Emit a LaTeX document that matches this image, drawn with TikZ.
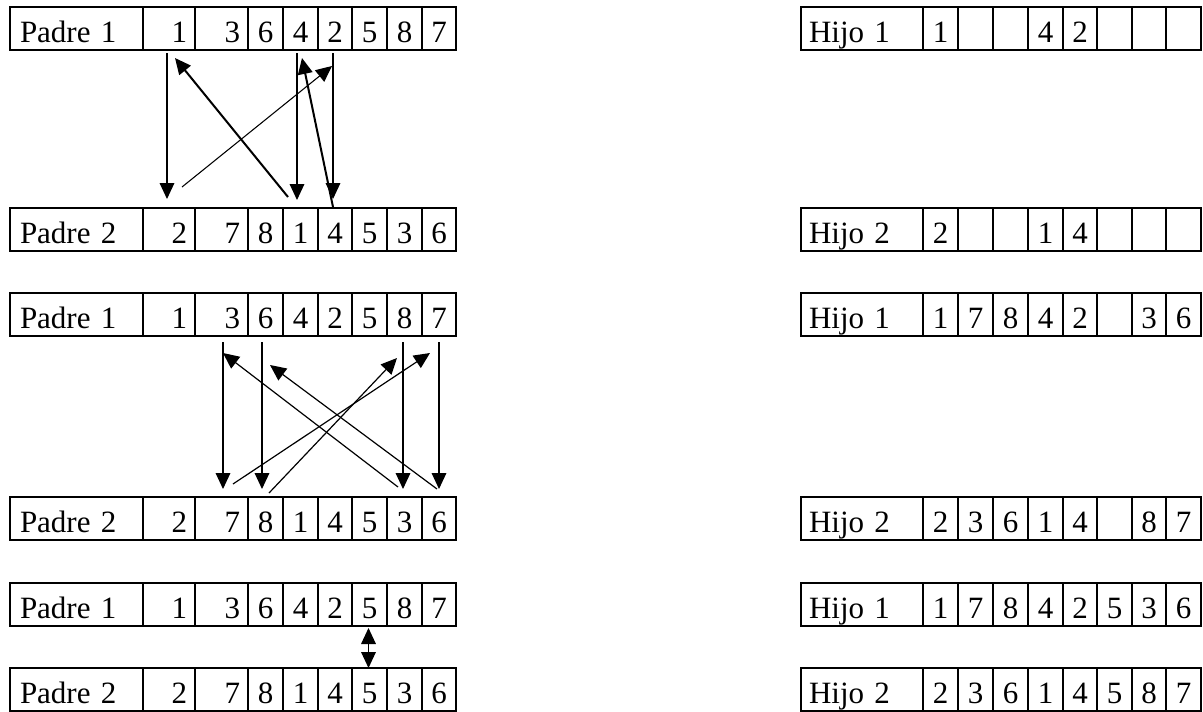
\documentclass[tikz,border=0pt]{standalone}
\usepackage{fontspec}
\setmainfont{Liberation Serif}
\usetikzlibrary{arrows.meta,calc}

% one unit = one pixel of the 1203 x 711 canvas, y grows downwards
\tikzset{
  cellbox/.style={draw, line width=1.5pt, anchor=north west, inner ysep=0pt,
    outer sep=0pt, text height=26.25pt, text depth=6pt,
    font=\fontsize{23.25pt}{28pt}\selectfont},
  link/.style={-{Triangle[length=12pt,width=11pt]}, line width=0.9pt},
  heavy/.style={link, line width=1.5pt},
  fine/.style={link, line width=0.8pt},
  swap/.style={{Triangle[length=12pt,width=11pt]}-{Triangle[length=12pt,width=11pt]}, line width=0.9pt},
}

% a chromosome row: #1 name, #2 column edges, #3 top edge, #4 label,
% #5 label padding (px), #6 the eight genes
\newcommand\genrow[6]{%
  \pgfmathsetmacro\rowX{{#2}[0]}%
  \pgfmathsetmacro\rowPad{#5*0.75}%
  \pgfmathsetmacro\rowW{(({#2}[1])-({#2}[0]))*0.75-2*\rowPad}%
  \node[cellbox, inner xsep=\rowPad pt, text width=\rowW pt, align=left]
    (#1-0) at (\rowX,#3) {#4};
  \foreach \gene [count=\k] in {#6} {
    \pgfmathtruncatemacro\kk{\k+1}%
    \pgfmathsetmacro\rowX{{#2}[\k]}%
    \pgfmathsetmacro\rowW{(({#2}[\kk])-({#2}[\k]))*0.75-12}%
    \pgfmathtruncatemacro\wide{((({#2}[\kk])-({#2}[\k]))>45)}%
    \ifnum\wide=1 \def\cellAl{right}\else\def\cellAl{center}\fi
    \node[cellbox, inner xsep=6pt, text width=\rowW pt, align=\cellAl]
      (#1-\k) at (\rowX,#3) {\gene};
  }%
}

\def\leftedges{10,143,195,248,283,318,352,387,422,456}
\def\rightedges{801,923,958,993,1028,1063,1097,1132,1166,1201}

\begin{document}
\begin{tikzpicture}[x=0.75pt,y=-0.75pt]
\useasboundingbox (0,0) rectangle (1203,711);

% parents
\genrow{L1}{\leftedges}{7}{Padre 1}{10}{1,3,6,4,2,5,8,7}
\genrow{L2}{\leftedges}{208}{Padre 2}{10}{2,7,8,1,4,5,3,6}
\genrow{L3}{\leftedges}{293}{Padre 1}{10}{1,3,6,4,2,5,8,7}
\genrow{L4}{\leftedges}{497}{Padre 2}{10}{2,7,8,1,4,5,3,6}
\genrow{L5}{\leftedges}{583}{Padre 1}{10}{1,3,6,4,2,5,8,7}
\genrow{L6}{\leftedges}{668}{Padre 2}{10}{2,7,8,1,4,5,3,6}

% offspring
\genrow{R1}{\rightedges}{7}{Hijo 1}{8}{1,{},{},4,2,{},{},{}}
\genrow{R2}{\rightedges}{208}{Hijo 2}{8}{2,{},{},1,4,{},{},{}}
\genrow{R3}{\rightedges}{293}{Hijo 1}{8}{1,7,8,4,2,{},3,6}
\genrow{R4}{\rightedges}{497}{Hijo 2}{8}{2,3,6,1,4,{},8,7}
\genrow{R5}{\rightedges}{583}{Hijo 1}{8}{1,7,8,4,2,5,3,6}
\genrow{R6}{\rightedges}{668}{Hijo 2}{8}{2,3,6,1,4,5,8,7}

% first cycle
\draw[link]  ($(L1-1.south)+(-2,3)$)     -- ($(L2-1.north)+(-2,-9)$);
\draw[heavy] ($(L2-4.north)+(-12.5,-11)$) -- ($(L1-1.south)+(6,8)$);
\draw[fine]  ($(L2-1.north)+(13,-21)$)   -- ($(L1-5.south)+(-3,16)$);
\draw[link]  ($(L1-4.south)+(-3.5,3)$)   -- ($(L2-4.north)+(-3.5,-8)$);
\draw[heavy] ($(L2-5.north)+(-2,-1)$)    -- ($(L1-4.south)+(1.5,8)$);
\draw[link]  ($(L1-5.south)+(-2,3)$)     -- ($(L2-5.north)+(-2,-9)$);

% second cycle
\draw[link] ($(L3-2.south)+(1.5,6)$)  -- ($(L4-2.north)+(1.5,-8)$);
\draw[link] ($(L3-3.south)+(-3.5,6)$) -- ($(L4-3.north)+(-3.5,-8)$);
\draw[link] ($(L3-7.south)+(-1.5,6)$) -- ($(L4-7.north)+(-1.5,-8)$);
\draw[link] ($(L3-8.south)+(0,6)$)    -- ($(L4-8.north)+(0,-8)$);
\draw[link] ($(L4-7.north)+(-6.5,-10)$) -- ($(L3-2.south)+(1.5,17)$);
\draw[link] ($(L4-8.north)+(-2,-8)$)    -- ($(L3-3.south)+(4.5,29)$);
\draw[link] ($(L4-2.north)+(11.5,-13)$) -- ($(L3-8.south)+(-9,17)$);
\draw[link] ($(L4-3.north)+(3.5,-4)$)   -- ($(L3-7.south)+(-7.5,22)$);

% third cycle: a single fixed gene
\draw[swap] ($(L5-6.south)+(-1,2)$) -- ($(L6-6.north)+(-1,0)$);
\end{tikzpicture}
\end{document}
